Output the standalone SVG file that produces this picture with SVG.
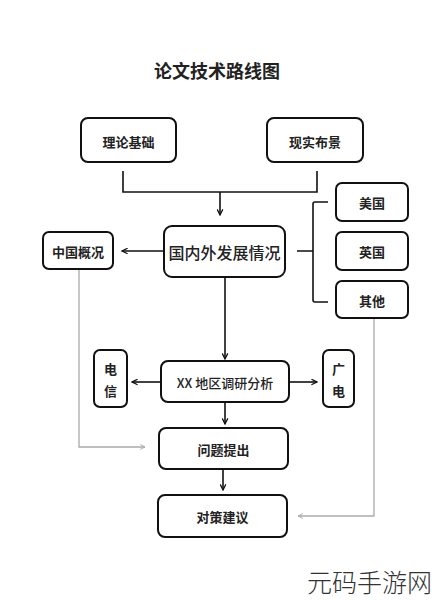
<svg xmlns="http://www.w3.org/2000/svg" width="432" height="600" viewBox="0 0 432 600">
<defs>
<marker id="ah" viewBox="0 0 10 10" refX="9" refY="5" markerWidth="7" markerHeight="7" orient="auto" markerUnits="userSpaceOnUse">
<path d="M1,1 L9,5 L1,9" fill="none" stroke="#111" stroke-width="1.8"/>
</marker>
<marker id="ahg" viewBox="0 0 10 10" refX="9" refY="5" markerWidth="6" markerHeight="6" orient="auto" markerUnits="userSpaceOnUse">
<path d="M1,1 L9,5 L1,9" fill="none" stroke="#aaa" stroke-width="1.6"/>
</marker>
</defs>
<style>
.box{fill:#fff;stroke:#111;stroke-width:2}
.t{font-family:"Noto Sans CJK SC","Noto Sans",sans-serif;font-size:13px;font-weight:bold;fill:#222;text-anchor:middle;dominant-baseline:central}
.c{fill:none;stroke:#111;stroke-width:1.6}
.g{fill:none;stroke:#aaa;stroke-width:1.3}
</style>
<rect width="432" height="600" fill="#fff"/>
<text x="217" y="70" class="t" style="font-size:18px">论文技术路线图</text>

<g id="connectors">
<path class="c" d="M123,171 V192 H317 V171"/>
<path class="c" d="M220,192 V215" marker-end="url(#ah)"/>
<path class="c" d="M164,251 H122" marker-end="url(#ah)"/>
<path class="c" d="M297,251 H313 M328,202 H315 Q313,202 313,204 V300 Q313,302 315,302 H328"/>
<path class="c" d="M225,277 V359" marker-end="url(#ah)"/>
<path class="c" d="M161,382 H132" marker-end="url(#ah)"/>
<path class="c" d="M289,382 H317" marker-end="url(#ah)"/>
<path class="c" d="M225,402 V424" marker-end="url(#ah)"/>
<path class="c" d="M223,469 V490" marker-end="url(#ah)"/>
<path class="g" d="M79,269 V447 H145" marker-end="url(#ahg)"/>
<path class="g" d="M374,318 V516 H298" marker-end="url(#ahg)"/>
</g>

<g id="n-lilun"><rect class="box" x="81" y="118" width="95" height="44" rx="7"/><text class="t" x="128.5" y="141">理论基础</text></g>
<g id="n-xianshi"><rect class="box" x="267" y="118" width="96" height="44" rx="7"/><text class="t" x="315" y="141">现实布景</text></g>
<g id="n-main"><rect class="box" x="164" y="226" width="121" height="51" rx="8"/><text class="t" x="224.5" y="252" style="font-size:16px;font-weight:500">国内外发展情况</text></g>
<g id="n-zhongguo"><rect class="box" x="43" y="232" width="70" height="37" rx="6"/><text class="t" x="78" y="251">中国概况</text></g>
<g id="n-meiguo"><rect class="box" x="336" y="183" width="72" height="38" rx="6"/><text class="t" x="372" y="202">美国</text></g>
<g id="n-yingguo"><rect class="box" x="336" y="232" width="72" height="38" rx="6"/><text class="t" x="372" y="251">英国</text></g>
<g id="n-qita"><rect class="box" x="336" y="281" width="72" height="37" rx="6"/><text class="t" x="372" y="300">其他</text></g>
<g id="n-xx"><rect class="box" x="161" y="361" width="128" height="41" rx="7"/><text class="t" x="225" y="382" style="font-weight:500">XX 地区调研分析</text></g>
<g id="n-dianxin"><rect class="box" x="94" y="350" width="33" height="57" rx="6"/><text class="t" x="110.5" y="368">电</text><text class="t" x="110.5" y="390">信</text></g>
<g id="n-guangdian"><rect class="box" x="323" y="350" width="31" height="57" rx="6"/><text class="t" x="338.5" y="368">广</text><text class="t" x="338.5" y="390">电</text></g>
<g id="n-wenti"><rect class="box" x="159" y="428" width="129" height="41" rx="7"/><text class="t" x="223.5" y="449">问题提出</text></g>
<g id="n-duice"><rect class="box" x="158" y="495" width="129" height="42" rx="7"/><text class="t" x="222.5" y="516">对策建议</text></g>

<text x="307" y="581" style="font-family:'Noto Sans CJK SC',sans-serif;font-size:25px;font-weight:300;fill:#333" dominant-baseline="central">元码手游网</text>
</svg>
